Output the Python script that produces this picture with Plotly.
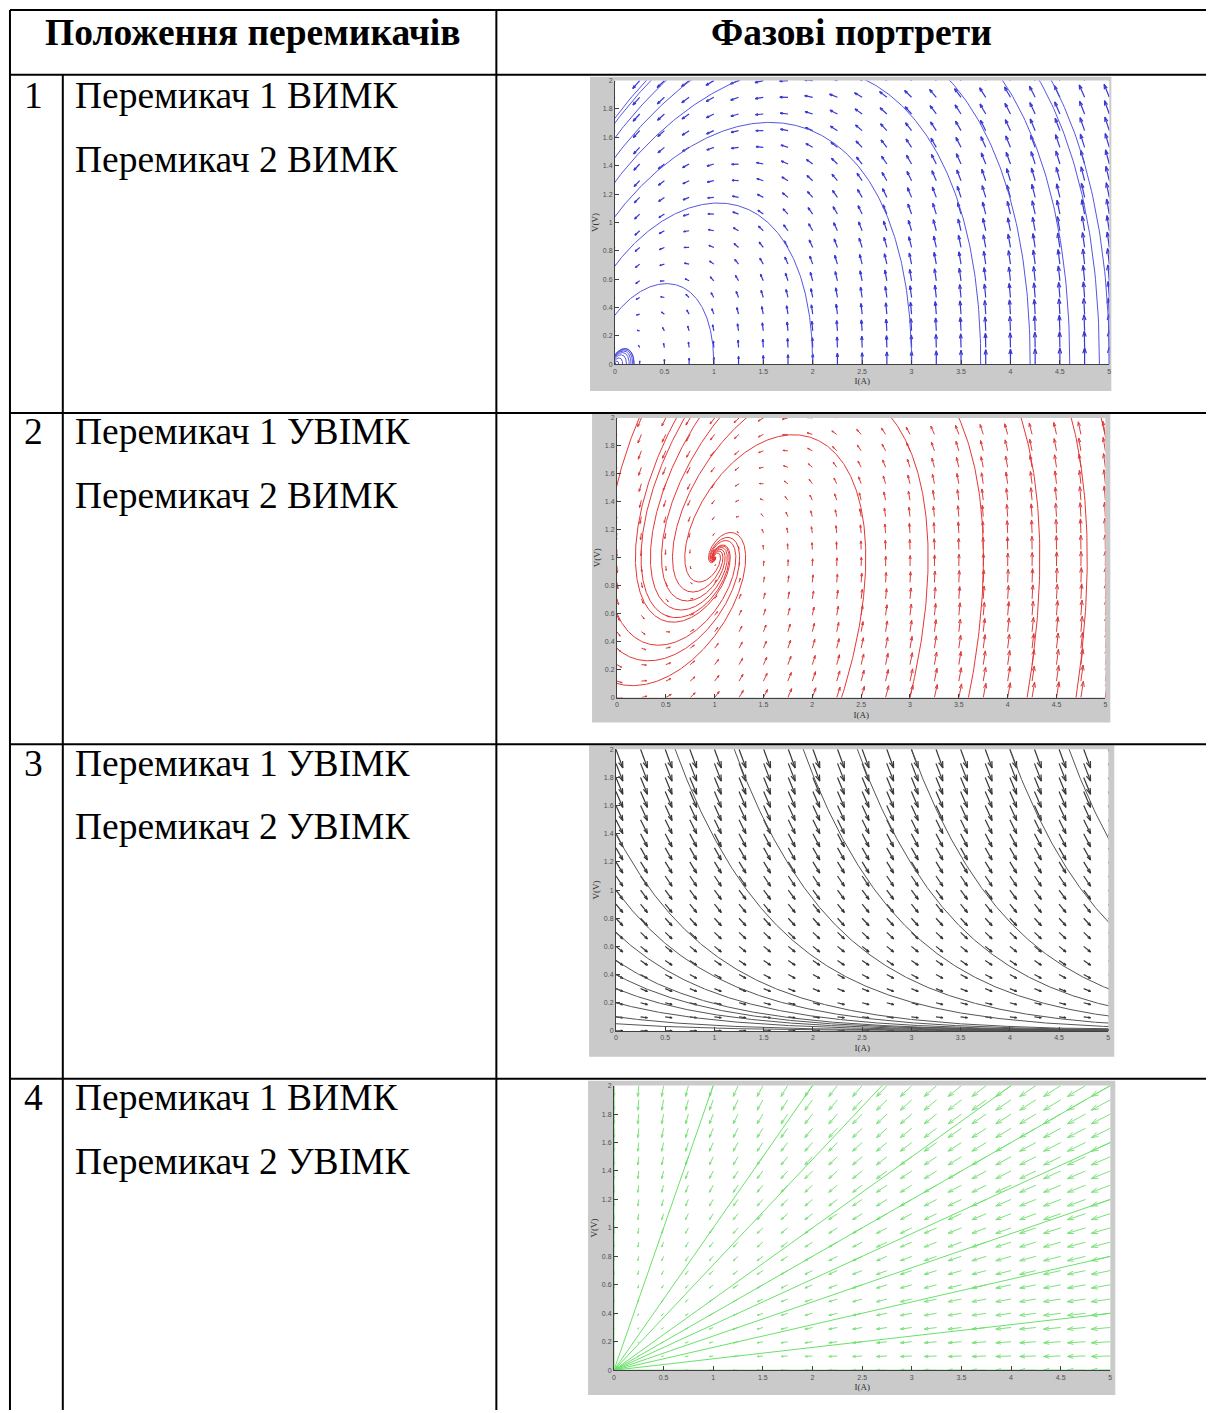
import numpy as np
import plotly.graph_objects as go

W, H = 1208, 1413

# ---------------- data ----------------
header_left = "Положення перемикачів"
header_right = "Фазові портрети"
row_numbers = ["1", "2", "3", "4"]
switch1_state = ["ВИМК", "УВІМК", "УВІМК", "ВИМК"]
switch2_state = ["ВИМК", "ВИМК", "УВІМК", "УВІМК"]

x_tick_vals = [0, 0.5, 1, 1.5, 2, 2.5, 3, 3.5, 4, 4.5, 5]
x_tick_text = ["0", "0.5", "1", "1.5", "2", "2.5", "3", "3.5", "4", "4.5", "5"]
y_tick_vals = [0, 0.2, 0.4, 0.6, 0.8, 1, 1.2, 1.4, 1.6, 1.8, 2]
y_tick_text = ["0", "0.2", "0.4", "0.6", "0.8", "1", "1.2", "1.4", "1.6", "1.8", "2"]
x_label = "I(A)"
y_label = "V(V)"

# RLC-type system (panels 1, 2):  dI/dt = -(V-V0)/L ,  dV/dt = ((I-I0) - (V-V0)/R)/C
rlc_L = 1.0
rlc_C = 1.0
rlc_R = 1.09
p1_equilibrium = [0.0, 0.0]
p2_equilibrium = [1.0, 1.0]
# panel 3: dI/dt = const , dV/dt = -k V
p3_current_rate = 1.0
p3_decay = 0.95
# panel 4: stable star node at origin
p4_rate = 1.0

# trajectory start points (I, V) read from the portraits
p1_start_I = [1.0, 2.0, 3.0, 3.7, 4.2, 4.6, 4.9, 5.0]
p1_start_V = [0.0, 0.0, 0.0, 0.0, 0.0, 0.0, 0.0, 0.0]
p2_start_I = [2.3, 3.0, 3.6, 4.2, 4.7, 5.0, 0.0, 0.0, 0.0]
p2_start_V = [0.0, 0.0, 0.0, 0.0, 0.0, 0.0, 0.1, 0.35, 0.6]
p3_start_I = [0.0, 0.0, 0.0, 0.0, 0.0, 0.0, 0.0, 0.0, 0.0, 0.6, 1.2, 1.9, 2.45, 3.0, 4.0, 4.6]
p3_start_V = [0.05, 0.1, 0.2, 0.3, 0.4, 0.5, 0.7, 1.0, 1.4, 2.0, 2.0, 2.0, 2.0, 2.0, 2.0, 2.0]
p4_start_I = [5.0, 5.0, 5.0, 5.0, 5.0, 5.0, 0.0, 1.0, 2.0, 2.7, 4.0]
p4_start_V = [0.0, 0.4, 0.8, 1.2, 1.6, 2.0, 2.0, 2.0, 2.0, 2.0, 2.0]

# ---------------- layout geometry (pixels) ----------------
# plot areas: x0, x1, y0(top), y1(bottom)
plot_px = [
    (615, 1111, 77, 362),
    (617, 1107, 416, 697),
    (616, 1110, 749, 1032),
    (614, 1112, 1087, 1373),
]
# gray MATLAB figure backgrounds
fig_px = [
    (590, 1113, 73, 389),
    (592, 1112, 412, 722),
    (589, 1116, 745, 1058),
    (588, 1117, 1082, 1398),
]
colors_line = ["rgb(85,85,225)", "rgb(228,55,55)", "rgb(85,85,85)", "rgb(105,225,105)"]
colors_arrow = ["rgb(55,55,210)", "rgb(220,60,60)", "rgb(55,55,55)", "rgb(125,225,125)"]
arrow_width = [1.2, 1.0, 1.2, 1.0]


def fx(px):
    return px / W


def fy(py):
    return 1 - py / H


# ---------------- vector fields ----------------
def field_rlc(eq):
    def f(I, V):
        dI = -(V - eq[1]) / rlc_L
        dV = ((I - eq[0]) - (V - eq[1]) / rlc_R) / rlc_C
        return dI, dV
    return f


def field_p3(I, V):
    return p3_current_rate * np.ones_like(I), -p3_decay * V


def field_p4(I, V):
    return -p4_rate * I, -p4_rate * V


fields = [field_rlc(p1_equilibrium), field_rlc(p2_equilibrium), field_p3, field_p4]
starts = [
    (p1_start_I, p1_start_V),
    (p2_start_I, p2_start_V),
    (p3_start_I, p3_start_V),
    (p4_start_I, p4_start_V),
]
t_spans = [(40, 12), (40, 12), (8, 8), (8, 3)]


def integrate(f, I0, V0, t_end, dt):
    I = np.array(I0, dtype=float)
    V = np.array(V0, dtype=float)
    n = int(abs(t_end) / abs(dt))
    out_I = [I.copy()]
    out_V = [V.copy()]
    for k in range(n):
        a1, b1 = f(I, V)
        a2, b2 = f(I + 0.5 * dt * a1, V + 0.5 * dt * b1)
        a3, b3 = f(I + 0.5 * dt * a2, V + 0.5 * dt * b2)
        a4, b4 = f(I + dt * a3, V + dt * b3)
        I = I + dt / 6 * (a1 + 2 * a2 + 2 * a3 + a4)
        V = V + dt / 6 * (b1 + 2 * b2 + 2 * b3 + b4)
        if k % 2 == 1:
            out_I.append(I.copy())
            out_V.append(V.copy())
    return np.array(out_I), np.array(out_V)


def trajectories(f, sI, sV, tf, tb):
    fI, fV = integrate(f, sI, sV, tf, 0.005)
    bI, bV = integrate(f, sI, sV, tb, -0.005)
    xs, ys = [], []
    for j in range(len(sI)):
        I = np.concatenate([bI[::-1, j], fI[1:, j]])
        V = np.concatenate([bV[::-1, j], fV[1:, j]])
        inside = (I > -1.5) & (I < 6.5) & (V > -1.0) & (V < 3.0)
        I = np.where(inside, I, np.nan)
        V = np.where(inside, V, np.nan)
        xs.extend(list(I) + [None])
        ys.extend(list(V) + [None])
    xs = [None if (v is not None and np.isnan(v)) else v for v in xs]
    ys = [None if (v is not None and np.isnan(v)) else v for v in ys]
    return xs, ys


def quiver(f, Ig, Vg, sx, sy, Lmax, power):
    I, V = np.meshgrid(Ig, Vg)
    I = I.ravel()
    V = V.ravel()
    u, v = f(I, V)
    pu, pv = u * sx, v * sy
    m = np.hypot(pu, pv)
    mmax = m.max()
    L = Lmax * (m / mmax) ** power
    with np.errstate(invalid="ignore", divide="ignore"):
        dx = np.where(m > 0, pu / m, 0) * L
        dy = np.where(m > 0, pv / m, 0) * L
    alpha, beta = 0.33, 0.33
    xs, ys = [], []
    for i in range(len(I)):
        tx, ty = I[i], V[i]
        hx, hy = tx + dx[i] / sx, ty + dy[i] / sy
        b1x = dx[i] - alpha * (dx[i] + beta * dy[i])
        b1y = dy[i] - alpha * (dy[i] - beta * dx[i])
        b2x = dx[i] - alpha * (dx[i] - beta * dy[i])
        b2y = dy[i] - alpha * (dy[i] + beta * dx[i])
        xs += [tx, hx, None, tx + b1x / sx, hx, tx + b2x / sx, None]
        ys += [ty, hy, None, ty + b1y / sy, hy, ty + b2y / sy, None]
    return xs, ys


arrow_grid_I = [np.arange(0, 5.01, 0.25)] * 4
arrow_grid_V = [np.linspace(0, 2, 18), np.linspace(0, 2, 18),
                np.arange(0, 2.01, 0.1), np.arange(0, 2.01, 0.1)]
arrow_Lmax = [17, 17, 20, 22]
arrow_power = [0.55, 0.55, 1.0, 1.0]

fig = go.Figure()
shapes = []
annotations = []

for k in range(4):
    x0, x1, y0, y1 = plot_px[k]
    sx = (x1 - x0) / 5.0
    sy = (y1 - y0) / 2.0
    xa = "x" if k == 0 else f"x{k+1}"
    ya = "y" if k == 0 else f"y{k+1}"
    qx, qy = quiver(fields[k], arrow_grid_I[k], arrow_grid_V[k], sx, sy, arrow_Lmax[k], arrow_power[k])
    fig.add_trace(go.Scatter(x=qx, y=qy, mode="lines", xaxis=xa, yaxis=ya,
                             line=dict(color=colors_arrow[k], width=arrow_width[k]), hoverinfo="skip",
                             showlegend=False))
    tx, ty = trajectories(fields[k], starts[k][0], starts[k][1], *t_spans[k])
    fig.add_trace(go.Scatter(x=tx, y=ty, mode="lines", xaxis=xa, yaxis=ya,
                             line=dict(color=colors_line[k], width=1), hoverinfo="skip",
                             showlegend=False))
    sfx = "" if k == 0 else str(k + 1)
    axis_common = dict(showgrid=False, zeroline=False, showline=True, linecolor="#404040",
                       linewidth=1, ticks="inside", ticklen=4, tickcolor="#404040",
                       tickfont=dict(family="Liberation Sans, Arial", size=7, color="#505050"))
    fig.update_layout(**{
        "xaxis" + sfx: dict(domain=[fx(x0), fx(x1)], range=[0, 5], anchor=ya,
                            tickvals=x_tick_vals, ticktext=x_tick_text,
                            title=dict(text=x_label, standoff=4,
                                       font=dict(family="Liberation Serif, Times New Roman", size=9, color="#303030")),
                            **axis_common),
        "yaxis" + sfx: dict(domain=[fy(y1), fy(y0)], range=[0, 2], anchor=xa,
                            tickvals=y_tick_vals, ticktext=y_tick_text,
                            title=dict(text=y_label, standoff=2,
                                       font=dict(family="Liberation Serif, Times New Roman", size=9, color="#303030")),
                            **axis_common),
    })
    gx0, gx1, gy0, gy1 = fig_px[k]
    shapes.append(dict(type="rect", xref="paper", yref="paper", layer="below",
                       x0=fx(gx0), x1=fx(gx1), y0=fy(gy1), y1=fy(gy0),
                       fillcolor="rgb(202,202,202)", line=dict(width=0)))
    shapes.append(dict(type="rect", xref="paper", yref="paper", layer="below",
                       x0=fx(x0), x1=fx(x1), y0=fy(y1), y1=fy(y0),
                       fillcolor="white", line=dict(width=0)))

# ---------------- table ----------------
tbl_left, tbl_right, tbl_top = 8, 1208, 6
num_col, mid_col = 61, 496
header_bottom = 71
row_bottoms = [411, 744, 1080]


def hline(y, xa=tbl_left, xb=tbl_right):
    shapes.append(dict(type="line", xref="paper", yref="paper", x0=fx(xa), x1=fx(xb),
                       y0=fy(y), y1=fy(y), line=dict(color="black", width=2), layer="above"))


def vline(x, ya, yb):
    shapes.append(dict(type="line", xref="paper", yref="paper", x0=fx(x), x1=fx(x),
                       y0=fy(ya), y1=fy(yb), line=dict(color="black", width=2), layer="above"))


hline(tbl_top)
hline(header_bottom)
for yb in row_bottoms:
    hline(yb)
vline(tbl_left, tbl_top, H)
vline(mid_col, tbl_top, H)
vline(num_col, header_bottom, H)

serif = "Liberation Serif, Times New Roman, serif"
fs = 37.5
annotations.append(dict(text=f"<b>{header_left}</b>", x=fx(252), y=fy(29), xref="paper", yref="paper",
                        showarrow=False, xanchor="center", yanchor="middle",
                        font=dict(family=serif, size=fs, color="black")))
annotations.append(dict(text=f"<b>{header_right}</b>", x=fx(852), y=fy(29), xref="paper", yref="paper",
                        showarrow=False, xanchor="center", yanchor="middle",
                        font=dict(family=serif, size=fs, color="black")))
row_text_y = [92, 430, 763, 1099]
for i in range(4):
    y = row_text_y[i]
    annotations.append(dict(text=row_numbers[i], x=fx(32), y=fy(y), xref="paper", yref="paper",
                            showarrow=False, xanchor="center", yanchor="middle",
                            font=dict(family=serif, size=fs, color="black")))
    annotations.append(dict(text=f"Перемикач 1 {switch1_state[i]}", x=fx(71), y=fy(y), xref="paper",
                            yref="paper", showarrow=False, xanchor="left", yanchor="middle",
                            font=dict(family=serif, size=fs, color="black")))
    annotations.append(dict(text=f"Перемикач 2 {switch2_state[i]}", x=fx(71), y=fy(y + 64), xref="paper",
                            yref="paper", showarrow=False, xanchor="left", yanchor="middle",
                            font=dict(family=serif, size=fs, color="black")))

fig.update_layout(width=W, height=H, margin=dict(l=0, r=0, t=0, b=0),
                  paper_bgcolor="white", plot_bgcolor="rgba(0,0,0,0)",
                  shapes=shapes, annotations=annotations, showlegend=False)

fig.write_html("out.html")
